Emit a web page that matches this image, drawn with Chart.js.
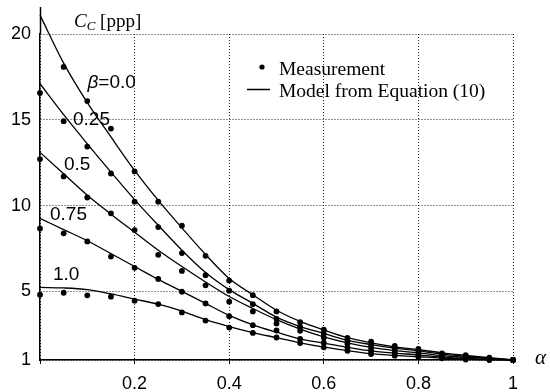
<!DOCTYPE html>
<html>
<head>
<meta charset="utf-8">
<script src="https://cdn.jsdelivr.net/npm/chart.js@4/dist/chart.umd.min.js"></script>
<style>
html,body{margin:0;padding:0;background:#fff;}
#wrap{width:550px;height:392px;position:relative;}
</style>
</head>
<body>
<div id="wrap"><canvas id="c" width="550" height="392"></canvas></div>
<script>
// ---- data ----
const alphaValues = [0, 0.05, 0.1, 0.15, 0.2, 0.25, 0.3, 0.35, 0.4, 0.45, 0.5, 0.55, 0.6, 0.65, 0.7, 0.75, 0.8, 0.85, 0.9, 0.95, 1.0];
const betaLabels = ["β=0.0", "0.25", "0.5", "0.75", "1.0"];
const yTickValues = [1, 5, 10, 15, 20];

// measurements
const meas_b000 = [20.52, 18.08, 16.09, 14.49, 11.99, 10.23, 8.83, 7.07, 5.63, 4.78, 3.83, 3.20, 2.77, 2.29, 2.07, 1.82, 1.64, 1.39, 1.28, 1.14, 1.0];
const meas_b025 = [16.56, 14.92, 13.44, 11.87, 10.23, 8.75, 7.23, 5.94, 5.04, 4.26, 3.40, 2.93, 2.54, 2.13, 1.88, 1.68, 1.53, 1.32, 1.21, 1.10, 1.0];
const meas_b050 = [12.71, 11.70, 10.47, 9.55, 8.57, 7.13, 6.19, 5.35, 4.40, 3.83, 3.13, 2.70, 2.31, 1.95, 1.70, 1.54, 1.42, 1.25, 1.15, 1.07, 1.0];
const meas_b075 = [8.67, 8.38, 7.91, 7.03, 6.37, 5.72, 4.98, 4.30, 3.55, 3.03, 2.72, 2.23, 2.01, 1.74, 1.52, 1.40, 1.30, 1.17, 1.09, 1.03, 1.0];
const meas_b100 = [4.81, 4.92, 4.77, 4.69, 4.46, 4.26, 3.77, 3.30, 2.89, 2.58, 2.31, 1.99, 1.74, 1.54, 1.35, 1.25, 1.19, 1.10, 1.03, 1.0, 1.0];

// model curves (Equation 10)
const model_b000 = [21.1, 18.3, 16.0, 14.0, 12.05, 10.3, 8.7, 7.15, 5.75, 4.8, 3.9, 3.25, 2.75, 2.3, 2.0, 1.77, 1.6, 1.42, 1.27, 1.13, 1.0];
const model_b025 = [17.1, 15.3, 13.6, 11.95, 10.35, 8.85, 7.4, 6.1, 5.1, 4.3, 3.5, 2.95, 2.55, 2.15, 1.9, 1.69, 1.53, 1.34, 1.22, 1.1, 1.0];
const model_b050 = [13.1, 11.85, 10.6, 9.5, 8.45, 7.4, 6.45, 5.55, 4.7, 4.0, 3.35, 2.8, 2.35, 2.0, 1.73, 1.55, 1.42, 1.26, 1.16, 1.08, 1.0];
const model_b075 = [9.25, 8.6, 7.95, 7.2, 6.45, 5.7, 5.0, 4.3, 3.6, 3.05, 2.62, 2.23, 1.98, 1.74, 1.53, 1.4, 1.3, 1.17, 1.1, 1.04, 1.0];
const model_b100 = [5.23, 5.2, 5.1, 4.85, 4.55, 4.25, 3.85, 3.35, 2.95, 2.6, 2.3, 2.0, 1.75, 1.55, 1.37, 1.27, 1.19, 1.11, 1.05, 1.01, 1.0];

const measSeries = [meas_b000, meas_b025, meas_b050, meas_b075, meas_b100];
const modelSeries = [model_b000, model_b025, model_b050, model_b075, model_b100];

const toXY = arr => arr.map((v, i) => ({x: alphaValues[i], y: v}));

const datasets = [];
modelSeries.forEach((s, k) => {
  datasets.push({
    label: 'model ' + betaLabels[k],
    data: toXY(s),
    showLine: true,
    borderColor: '#000',
    borderWidth: 1.3,
    pointRadius: 0,
    cubicInterpolationMode: 'monotone',
    clip: false
  });
});
measSeries.forEach((s, k) => {
  datasets.push({
    label: 'meas ' + betaLabels[k],
    data: toXY(s),
    showLine: false,
    pointRadius: 2.9,
    pointBackgroundColor: '#000',
    pointBorderColor: '#000',
    pointBorderWidth: 0,
    clip: false
  });
});

// annotation label positions (pixel offsets relative to chart area)
const labelPos = [
  {dx: 47.5, y: 88},
  {dx: 33, y: 125},
  {dx: 24, y: 170},
  {dx: 10, y: 220},
  {dx: 13, y: 280}
];

const annotations = {
  id: 'annotations',
  afterDraw(chart) {
    const ctx = chart.ctx;
    const a = chart.chartArea;
    ctx.save();
    // extend y axis line above the top grid line
    ctx.strokeStyle = '#000';
    ctx.lineWidth = 1.5;
    ctx.beginPath();
    ctx.moveTo(a.left + 0.5, a.top);
    ctx.lineTo(a.left + 0.5, a.top - 27);
    ctx.stroke();

    // y title  C_C [ppp]
    ctx.fillStyle = '#000';
    ctx.textBaseline = 'alphabetic';
    ctx.textAlign = 'left';
    let x = 74, yb = 27;
    ctx.font = 'italic 19px "Liberation Serif", "Times New Roman", serif';
    ctx.fillText('C', x, yb);
    x += ctx.measureText('C').width;
    ctx.font = 'italic 13px "Liberation Serif", "Times New Roman", serif';
    ctx.fillText('C', x, yb + 3);
    x += ctx.measureText('C').width;
    ctx.font = '19px "Liberation Serif", "Times New Roman", serif';
    ctx.fillText(' [ppp]', x, yb);

    // x title alpha
    ctx.font = 'italic 21px "Liberation Serif", "Times New Roman", serif';
    ctx.fillText('α', 535, 364);

    // beta labels
    betaLabels.forEach((t, k) => {
      const p = labelPos[k];
      let lx = a.left + p.dx;
      if (t.startsWith('β')) {
        ctx.font = 'italic 19px "Liberation Sans", Arial, sans-serif';
        ctx.fillText('β', lx, p.y);
        lx += ctx.measureText('β').width;
        ctx.font = '19px "Liberation Sans", Arial, sans-serif';
        ctx.fillText(t.slice(1), lx, p.y);
      } else {
        ctx.font = '19px "Liberation Sans", Arial, sans-serif';
        ctx.fillText(t, lx, p.y);
      }
    });

    // legend
    ctx.font = '19.5px "Liberation Serif", "Times New Roman", serif';
    ctx.beginPath();
    ctx.arc(262, 67, 2.6, 0, Math.PI * 2);
    ctx.fill();
    ctx.fillText('Measurement', 279, 75);
    ctx.lineWidth = 1.5;
    ctx.beginPath();
    ctx.moveTo(247, 89.5);
    ctx.lineTo(270, 89.5);
    ctx.stroke();
    ctx.fillText('Model from Equation (10)', 279, 97);
    ctx.restore();
  }
};

new Chart(document.getElementById('c'), {
  type: 'scatter',
  data: {datasets},
  options: {
    responsive: false,
    animation: false,
    events: [],
    layout: {padding: {left: 0, top: 34, right: 37, bottom: 0}},
    plugins: {legend: {display: false}, tooltip: {enabled: false}},
    scales: {
      x: {
        type: 'linear',
        min: 0, max: 1,
        afterFit(scale) { scale.height = 32; },
        ticks: {
          stepSize: 0.2,
          color: '#000',
          padding: 9,
          font: {family: '"Liberation Sans", Arial, sans-serif', size: 18},
          callback: v => (v === 0 ? '' : String(Math.round(v * 10) / 10))
        },
        grid: {color: '#222', lineWidth: 1, tickLength: 4, tickColor: '#000', tickBorderDash: []},
        border: {display: true, color: '#000', width: 1.5, dash: [1, 2]}
      },
      y: {
        type: 'linear',
        min: 1, max: 20,
        afterFit(scale) { scale.width = 40; },
        afterBuildTicks(scale) { scale.ticks = yTickValues.map(v => ({value: v})); },
        ticks: {
          color: '#000',
          padding: 9,
          font: {family: '"Liberation Sans", Arial, sans-serif', size: 18}
        },
        grid: {color: '#222', lineWidth: 1, drawTicks: false},
        border: {display: true, color: '#000', width: 1.5, dash: [1, 2]}
      }
    }
  },
  plugins: [annotations]
});
</script>
</body>
</html>
